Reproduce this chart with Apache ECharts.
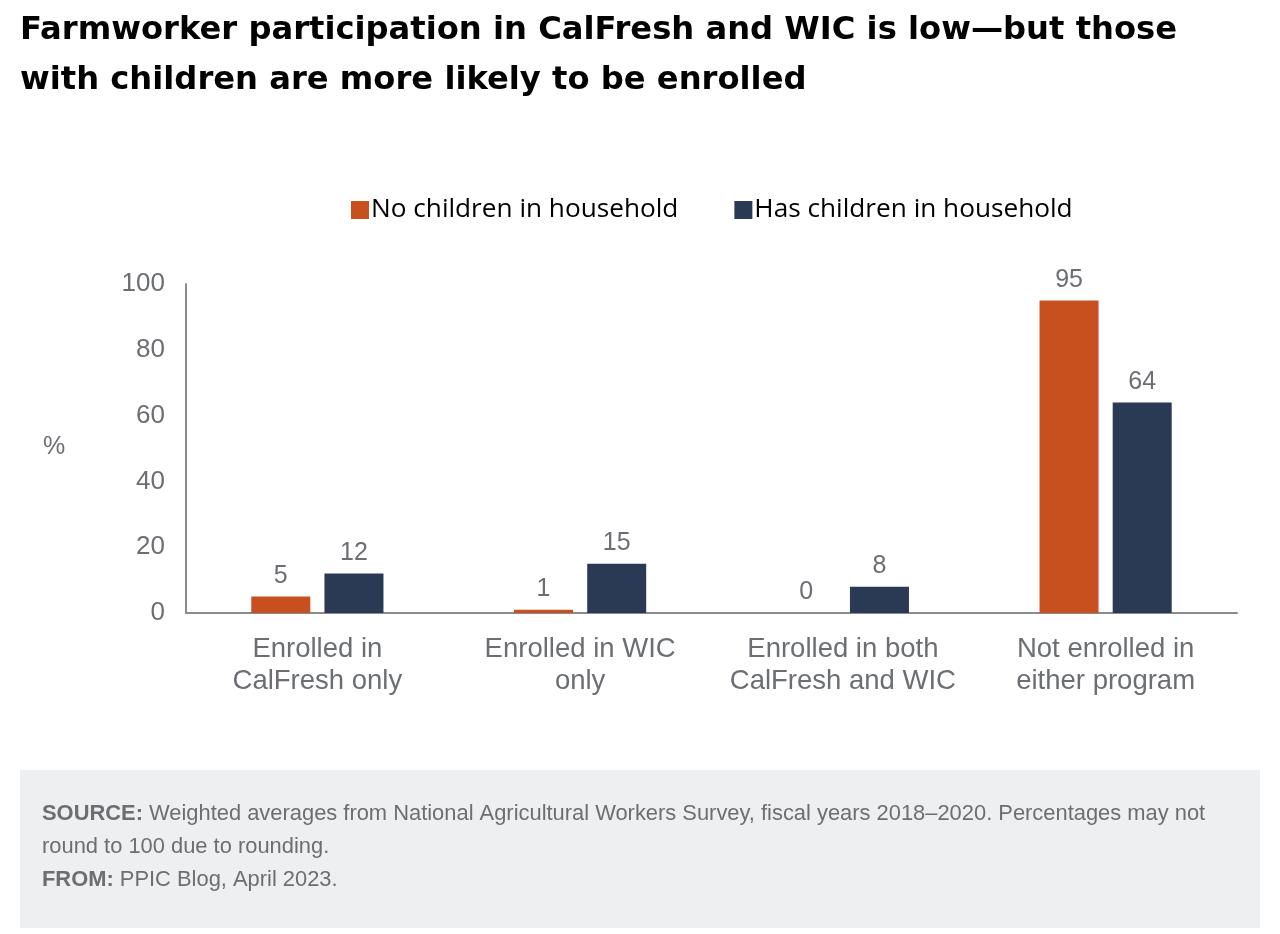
<!DOCTYPE html>
<html>
<head>
<meta charset="utf-8">
<script src="https://cdn.jsdelivr.net/npm/echarts@6/dist/echarts.min.js"></script>
<style>
  html, body { margin: 0; padding: 0; background: #fff; }
  #main { width: 1280px; height: 934px; }
</style>
</head>
<body>
<div id="main"></div>
<script>
// data
var categories = [
  'Enrolled in\nCalFresh only',
  'Enrolled in WIC\nonly',
  'Enrolled in both\nCalFresh and WIC',
  'Not enrolled in\neither program'
];
var noChildren = [5, 1, 0, 95];
var hasChildren = [12, 15, 8, 64];
var seriesNames = ['No children in household', 'Has children in household'];

var gray = '#6b6e73';
var chart = echarts.init(document.getElementById('main'));

var option = {
  animation: false,
  textStyle: { fontFamily: 'Liberation Sans, Arial, sans-serif' },
  title: {
    text: 'Farmworker participation in CalFresh and WIC is low\u2014but those\nwith children are more likely to be enrolled',
    left: 20, top: 6, padding: 0,
    textStyle: {
      fontFamily: 'DejaVu Sans, sans-serif', fontWeight: 'bold',
      fontSize: 32.2, lineHeight: 50, color: '#000'
    }
  },
  legend: {
    left: 351, top: 197, padding: 0,
    itemWidth: 18, itemHeight: 18, itemGap: 56,
    icon: 'rect',
    textStyle: { fontFamily: 'Open Sans, sans-serif', fontSize: 26.2, color: '#000', padding: [0, 0, 0, -3] },
    data: seriesNames
  },
  grid: { left: 186, right: 43, top: 284, bottom: 321 },
  xAxis: {
    type: 'category',
    data: categories,
    axisLine: { lineStyle: { color: '#8a8c90', width: 2 } },
    axisTick: { show: false },
    axisLabel: { fontSize: 27.5, color: gray, lineHeight: 32, margin: 20, interval: 0 }
  },
  yAxis: {
    type: 'value',
    min: 0, max: 100, interval: 20,
    splitLine: { show: false },
    axisLine: { show: true, lineStyle: { color: '#8a8c90', width: 2 } },
    axisTick: { show: false },
    axisLabel: { fontSize: 26, color: gray, margin: 21 }
  },
  graphic: [
    { type: 'text', left: 43, top: 435, style: { text: '%', fontSize: 25, fill: gray, fontFamily: 'Liberation Sans, Arial, sans-serif' } },
    { type: 'rect', left: 20, top: 770, shape: { width: 1240, height: 158 }, style: { fill: '#eeeff1' } },
    {
      type: 'text', left: 42, top: 797,
      style: {
        text: '{b|SOURCE:} Weighted averages from National Agricultural Workers Survey, fiscal years 2018\u20132020. Percentages may not\nround to 100 due to rounding.\n{b|FROM:} PPIC Blog, April 2023.',
        fontSize: 21.9, lineHeight: 33, fill: gray,
        fontFamily: 'Liberation Sans, Arial, sans-serif',
        rich: { b: { fontWeight: 'bold', fontSize: 21.9, fill: gray, fontFamily: 'Liberation Sans, Arial, sans-serif' } }
      }
    }
  ],
  series: [
    {
      name: seriesNames[0], type: 'bar', data: noChildren,
      barWidth: 59, barGap: '24%',
      itemStyle: { color: '#c8501e' },
      label: { show: true, position: 'top', distance: 8, fontSize: 25, color: gray }
    },
    {
      name: seriesNames[1], type: 'bar', data: hasChildren,
      barWidth: 59,
      itemStyle: { color: '#2a3a54' },
      label: { show: true, position: 'top', distance: 8, fontSize: 25, color: gray }
    }
  ]
};
chart.setOption(option);
</script>
</body>
</html>
